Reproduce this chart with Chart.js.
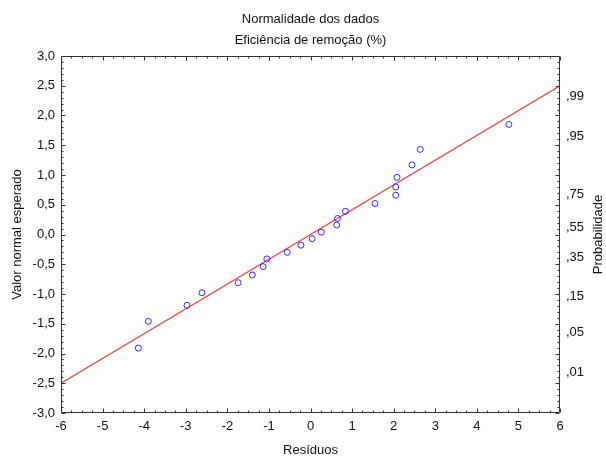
<!DOCTYPE html>
<html>
<head>
<meta charset="utf-8">
<script src="https://cdn.jsdelivr.net/npm/chart.js@4.4.0/dist/chart.umd.min.js"></script>
<style>
  html, body { margin: 0; padding: 0; background: #fff; }
</style>
</head>
<body>
<canvas id="grafico" width="606" height="459"></canvas>
<script>
// Resíduos observados e valores normais esperados (gráfico de probabilidade normal)
const residuos = [-4.14, -3.90, -2.97, -2.61, -1.74, -1.40, -1.14, -1.05, -0.56, -0.23, 0.04,
                  0.26, 0.63, 0.65, 0.84, 1.55, 2.05, 2.05, 2.08, 2.44, 2.64, 4.77];
const valorNormal = [-1.91, -1.46, -1.19, -0.98, -0.81, -0.68, -0.54, -0.41, -0.30, -0.18, -0.07,
                     0.04, 0.16, 0.27, 0.39, 0.52, 0.66, 0.80, 0.96, 1.17, 1.43, 1.85];

// Reta de referência
const retaX = [-6, 6];
const retaY = [-2.5, 2.5];

// Eixos
const xLimites = [-6, 6];
const yLimites = [-3, 3];
const probRotulos = [',01', ',05', ',15', ',35', ',55', ',75', ',95', ',99'];
const probZ = [-2.326, -1.645, -1.036, -0.385, 0.126, 0.674, 1.645, 2.326];

const tituloLinhas = ['Normalidade dos dados', 'Eficiência de remoção (%)'];
const tituloX = 'Resíduos';
const tituloY = 'Valor normal esperado';
const tituloY2 = 'Probabilidade';

const FONTE = '"Liberation Sans", Arial, sans-serif';
const COR_TEXTO = '#111';
const COR_EIXO = '#333';

// Moldura, marcas de escala (maiores e menores) e títulos
const molduraPlugin = {
  id: 'moldura',
  afterDatasetsDraw(chart) {
    const { ctx, chartArea: a, scales } = chart;
    const sx = scales.x, sy = scales.y;
    ctx.save();
    ctx.strokeStyle = COR_EIXO;
    ctx.lineWidth = 1;
    const L = Math.round(a.left) + 0.5, R = Math.round(a.right) - 0.5;
    const T = Math.round(a.top) + 0.5, B = Math.round(a.bottom) - 0.5;
    ctx.beginPath();
    ctx.rect(L, T, R - L, B - T);
    ctx.stroke();

    ctx.beginPath();
    for (let k = 0; k <= 48; k++) {
      const v = xLimites[0] + k * 0.25;
      const len = (k % 4 === 0) ? 4 : 2;
      const px = Math.round(sx.getPixelForValue(v)) + 0.5;
      ctx.moveTo(px, B); ctx.lineTo(px, B - len);
      ctx.moveTo(px, T); ctx.lineTo(px, T + len);
    }
    for (let k = 0; k <= 60; k++) {
      const v = yLimites[0] + k * 0.1;
      const len = (k % 5 === 0) ? 4 : 2;
      const py = Math.round(sy.getPixelForValue(v)) + 0.5;
      ctx.moveTo(L, py); ctx.lineTo(L + len, py);
      ctx.moveTo(R, py); ctx.lineTo(R - len, py);
    }
    ctx.stroke();
    ctx.restore();
  },
  afterDraw(chart) {
    const { ctx, chartArea: a } = chart;
    const cx = (a.left + a.right) / 2;
    const cy = (a.top + a.bottom) / 2;
    ctx.save();
    ctx.fillStyle = COR_TEXTO;
    ctx.font = '13px ' + FONTE;
    ctx.textAlign = 'center';
    ctx.textBaseline = 'middle';
    ctx.fillText(tituloLinhas[0], cx, 19);
    ctx.fillText(tituloLinhas[1], cx, 40);
    ctx.fillText(tituloX, cx, 450);
    ctx.save();
    ctx.translate(17, cy);
    ctx.rotate(-Math.PI / 2);
    ctx.fillText(tituloY, 0, 0);
    ctx.restore();
    ctx.save();
    ctx.translate(598, cy);
    ctx.rotate(-Math.PI / 2);
    ctx.fillText(tituloY2, 0, 0);
    ctx.restore();
    ctx.restore();
  }
};

const fonteTicks = { family: FONTE, size: 13 };
const semGrade = { display: false, drawTicks: false };

new Chart(document.getElementById('grafico'), {
  type: 'scatter',
  data: {
    datasets: [
      {
        label: 'Resíduos',
        data: residuos.map((x, i) => ({ x, y: valorNormal[i] })),
        pointStyle: 'circle',
        pointRadius: 3,
        pointBorderWidth: 1,
        pointBorderColor: '#2b2bff',
        pointBackgroundColor: 'rgba(255,255,255,0)',
        showLine: false,
        order: 0
      },
      {
        label: 'Reta',
        data: retaX.map((x, i) => ({ x, y: retaY[i] })),
        showLine: true,
        borderColor: '#ff3b3b',
        borderWidth: 1.2,
        pointRadius: 0,
        order: 1
      }
    ]
  },
  options: {
    responsive: false,
    animation: false,
    devicePixelRatio: 1,
    layout: { padding: { top: 56, left: 0, right: 0, bottom: 0 } },
    plugins: {
      legend: { display: false },
      title: { display: false },
      tooltip: { enabled: false }
    },
    scales: {
      x: {
        type: 'linear',
        position: 'bottom',
        min: xLimites[0],
        max: xLimites[1],
        grid: semGrade,
        border: { display: false },
        ticks: {
          stepSize: 1,
          font: fonteTicks,
          color: COR_TEXTO,
          padding: 6,
          maxRotation: 0,
          callback: v => String(v)
        },
        afterFit: s => { s.height = 46; }
      },
      y: {
        type: 'linear',
        position: 'left',
        min: yLimites[0],
        max: yLimites[1],
        grid: semGrade,
        border: { display: false },
        ticks: {
          stepSize: 0.5,
          font: fonteTicks,
          color: COR_TEXTO,
          padding: 6,
          callback: v => Number(v).toFixed(1).replace('.', ',')
        },
        afterFit: s => { s.width = 61; }
      },
      y2: {
        type: 'linear',
        position: 'right',
        min: yLimites[0],
        max: yLimites[1],
        grid: semGrade,
        border: { display: false },
        afterBuildTicks: s => { s.ticks = probZ.map(v => ({ value: v })); },
        ticks: {
          font: fonteTicks,
          color: COR_TEXTO,
          padding: 6,
          callback: (v, i) => probRotulos[i]
        },
        afterFit: s => { s.width = 46; }
      }
    }
  },
  plugins: [molduraPlugin]
});
</script>
</body>
</html>
